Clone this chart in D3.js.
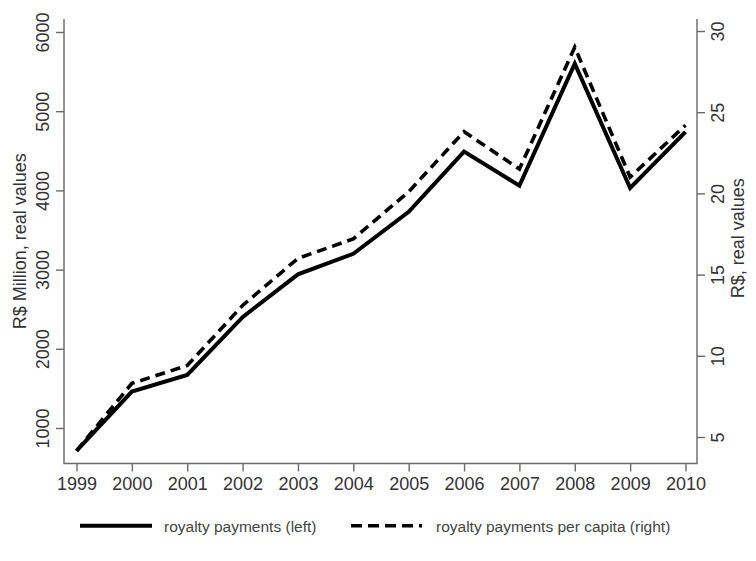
<!DOCTYPE html>
<html>
<head>
<meta charset="utf-8">
<script src="https://cdn.jsdelivr.net/npm/d3@7"></script>
<style>
  html, body { margin: 0; padding: 0; background: #fff; }
  svg { display: block; font-family: "Liberation Sans", Arial, Helvetica, sans-serif; }
</style>
</head>
<body>
<svg id="chart" width="756" height="561"></svg>
<script>
// Years on the x axis
const years = [1999, 2000, 2001, 2002, 2003, 2004, 2005, 2006, 2007, 2008, 2009, 2010];
// Royalty payments, R$ million in real values (left axis)
const royalty = [710, 1460, 1670, 2400, 2940, 3200, 3730, 4490, 4060, 5600, 4030, 4740];
// Royalty payments per capita, R$ in real values (right axis)
const perCapita = [4.15, 8.3, 9.4, 13.1, 16.0, 17.2, 20.1, 23.8, 21.5, 29.0, 21.0, 24.2];
// Tick values
const leftTicks = [1000, 2000, 3000, 4000, 5000, 6000];
const rightTicks = [5, 10, 15, 20, 25, 30];
// Legend entries
const legendLabels = ["royalty payments (left)", "royalty payments per capita (right)"];

const svg = d3.select("#chart");

// Plot frame
const frame = { left: 64, right: 697, top: 19, bottom: 463.5 };

const x = d3.scaleLinear().domain([1999, 2010]).range([76.5, 685.5]);
const yLeft = d3.scaleLinear().domain([1000, 6000]).range([428, 32]);
const yRight = d3.scaleLinear().domain([5, 30]).range([437, 31]);

const axisColor = "#6a6a6a";
const textColor = "#333";

// Axis lines (left, bottom, right)
svg.append("path")
  .attr("d", `M${frame.left},${frame.top}V${frame.bottom}H${frame.right}V${frame.top}`)
  .attr("fill", "none")
  .attr("stroke", axisColor)
  .attr("stroke-width", 1.4);

function styleAxis(g) {
  g.select(".domain").remove();
  g.selectAll(".tick line").attr("stroke", axisColor).attr("stroke-width", 1.4);
  g.selectAll(".tick text")
    .attr("fill", textColor)
    .attr("font-size", 18)
    .attr("font-family", "Liberation Sans, Arial, sans-serif");
}

// Bottom axis
const gx = svg.append("g")
  .attr("transform", `translate(0,${frame.bottom})`)
  .call(d3.axisBottom(x).tickValues(years).tickFormat(d3.format("d")).tickSize(8).tickSizeOuter(0));
styleAxis(gx);
gx.selectAll(".tick text").attr("y", 26.5).attr("dy", null);

// Left axis, rotated labels
const gl = svg.append("g")
  .attr("transform", `translate(${frame.left},0)`)
  .call(d3.axisLeft(yLeft).tickValues(leftTicks).tickFormat(d3.format("d")).tickSize(8).tickSizeOuter(0));
styleAxis(gl);
gl.selectAll(".tick text")
  .attr("x", null).attr("dy", null)
  .attr("text-anchor", "middle")
  .attr("transform", "translate(-15.5,0) rotate(-90)");

// Right axis, rotated labels
const gr = svg.append("g")
  .attr("transform", `translate(${frame.right},0)`)
  .call(d3.axisRight(yRight).tickValues(rightTicks).tickFormat(d3.format("d")).tickSize(8).tickSizeOuter(0));
styleAxis(gr);
gr.selectAll(".tick text")
  .attr("x", null).attr("dy", null)
  .attr("text-anchor", "middle")
  .attr("transform", "translate(26.5,0) rotate(-90)");

// Axis titles
const midY = (frame.top + frame.bottom) / 2;
svg.append("text")
  .attr("transform", `translate(26,${midY}) rotate(-90)`)
  .attr("text-anchor", "middle")
  .attr("font-size", 18)
  .attr("fill", textColor)
  .text("R$ Million, real values");
svg.append("text")
  .attr("transform", `translate(744,${midY - 3}) rotate(-90)`)
  .attr("text-anchor", "middle")
  .attr("font-size", 18)
  .attr("fill", textColor)
  .text("R$, real values");

// Series lines
const lineLeft = d3.line().x((d, i) => x(years[i])).y(d => yLeft(d));
const lineRight = d3.line().x((d, i) => x(years[i])).y(d => yRight(d));

svg.append("path")
  .datum(perCapita)
  .attr("d", lineRight)
  .attr("fill", "none")
  .attr("stroke", "#000")
  .attr("stroke-width", 3.6)
  .attr("stroke-dasharray", "10,6")
  .attr("stroke-linejoin", "miter");

svg.append("path")
  .datum(royalty)
  .attr("d", lineLeft)
  .attr("fill", "none")
  .attr("stroke", "#000")
  .attr("stroke-width", 4)
  .attr("stroke-linejoin", "miter");

// Legend
const legendY = 525.7;
const legend = svg.append("g");
legend.append("line")
  .attr("x1", 80).attr("x2", 152).attr("y1", legendY).attr("y2", legendY)
  .attr("stroke", "#000").attr("stroke-width", 4);
legend.append("text")
  .attr("x", 164).attr("y", legendY + 6)
  .attr("font-size", 15.5).attr("fill", "#444")
  .text(legendLabels[0]);
legend.append("line")
  .attr("x1", 351).attr("x2", 422).attr("y1", legendY).attr("y2", legendY)
  .attr("stroke", "#000").attr("stroke-width", 3.6)
  .attr("stroke-dasharray", "11,6");
legend.append("text")
  .attr("x", 436).attr("y", legendY + 6)
  .attr("font-size", 15.5).attr("fill", "#444")
  .text(legendLabels[1]);
</script>
</body>
</html>
